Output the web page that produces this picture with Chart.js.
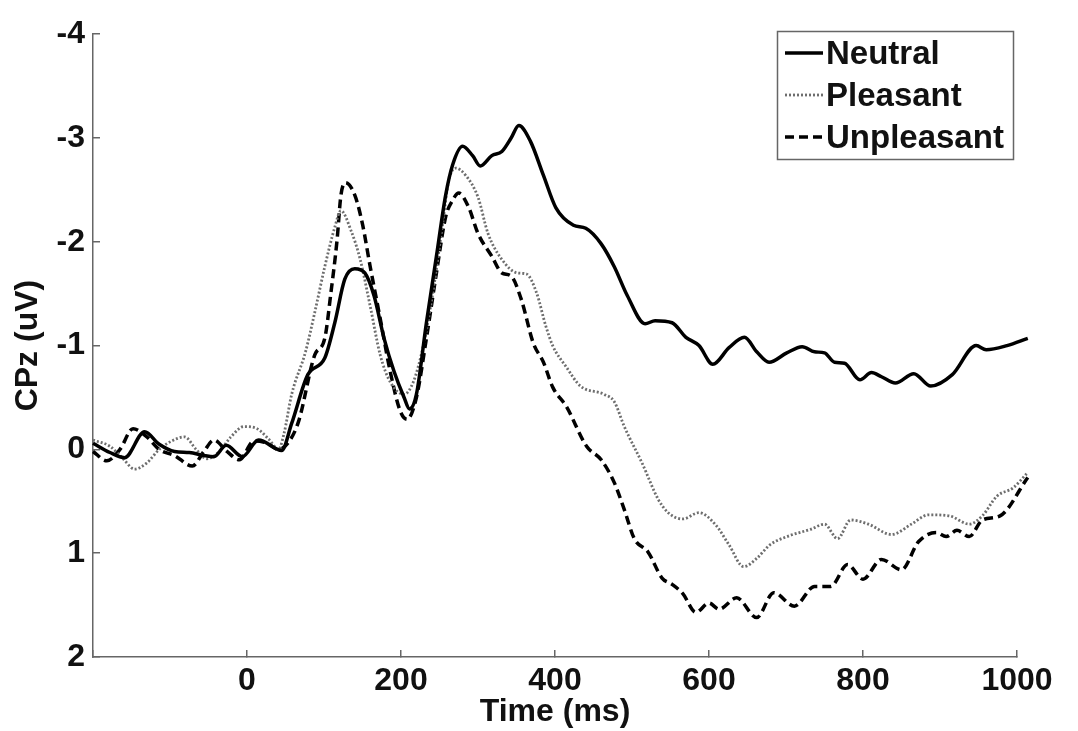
<!DOCTYPE html>
<html>
<head>
<meta charset="utf-8">
<script src="https://cdn.jsdelivr.net/npm/chart.js@4"></script>
<style>
  html, body { margin: 0; padding: 0; background: #fff; }
  #wrap { width: 1078px; height: 731px; }
</style>
</head>
<body>
<div id="wrap"><canvas id="erpChart"></canvas></div>
<script>
// time (ms) and CPz amplitude (uV)
const neutralTime = [-200,-178,-159,-133,-114,-94,-75,-55,-43,-27,-6,15,45,58,79,101,114,127,140,153,165,178,191,204,211,220,233,246,258,267,280,293,303,318,331,343,353,368,385,401,424,440,460,477,494,517,530,552,570,587,605,626,646,662,678,701,721,737,750,763,776,796,811,824,842,866,888,916,947,960,987,1014];
const neutralValues = [-0.06,0.03,0.08,-0.17,-0.05,0.02,0.03,0.06,0.07,-0.04,0.07,-0.09,0.01,-0.25,-0.72,-0.88,-1.22,-1.64,-1.74,-1.70,-1.48,-1.07,-0.75,-0.50,-0.39,-0.53,-1.22,-1.86,-2.45,-2.74,-2.92,-2.83,-2.73,-2.83,-2.87,-3.00,-3.12,-2.97,-2.64,-2.33,-2.16,-2.13,-1.98,-1.76,-1.48,-1.21,-1.24,-1.22,-1.08,-1.00,-0.82,-0.98,-1.08,-0.94,-0.84,-0.93,-0.99,-0.94,-0.93,-0.84,-0.83,-0.67,-0.74,-0.70,-0.64,-0.73,-0.61,-0.72,-1.00,-0.96,-1.00,-1.07];

const pleasantTime = [-200,-178,-161,-146,-130,-114,-98,-81,-66,-52,-36,-21,-4,13,28,41,48,58,76,88,101,114,122,135,147,160,173,186,204,216,229,242,254,262,271,284,300,313,331,351,363,376,388,397,415,433,464,477,490,513,534,547,566,587,609,626,645,662,679,705,732,750,767,784,807,837,863,885,912,938,955,974,995,1013];
const pleasantValues = [-0.09,-0.03,0.09,0.19,0.13,0.0,-0.08,-0.12,0.0,0.09,0.02,-0.12,-0.22,-0.2,-0.1,0.0,-0.15,-0.53,-0.94,-1.32,-1.76,-2.14,-2.30,-2.11,-1.83,-1.38,-0.91,-0.65,-0.53,-0.65,-1.00,-1.54,-2.17,-2.59,-2.71,-2.64,-2.43,-2.08,-1.83,-1.70,-1.69,-1.51,-1.19,-1.0,-0.79,-0.61,-0.53,-0.46,-0.22,0.13,0.48,0.61,0.67,0.61,0.73,0.92,1.13,1.05,0.92,0.83,0.77,0.72,0.86,0.68,0.72,0.82,0.72,0.63,0.64,0.72,0.64,0.45,0.37,0.23];

const unpleasantTime = [-200,-182,-165,-148,-130,-114,-94,-71,-56,-43,-26,-10,9,26,41,55,67,88,101,109,117,122,128,140,150,160,173,186,199,208,220,233,246,258,267,275,288,300,318,331,343,356,372,385,397,415,441,460,477,490,503,521,539,552,566,583,600,613,636,662,684,711,737,758,780,800,824,850,872,895,908,922,938,955,978,1014];
const unpleasantValues = [0.02,0.11,0.0,-0.2,-0.12,0.0,0.06,0.16,0.02,-0.09,0.02,0.10,-0.08,-0.06,0.0,-0.08,-0.27,-0.91,-1.07,-1.51,-2.02,-2.45,-2.57,-2.45,-2.17,-1.76,-1.26,-0.75,-0.37,-0.29,-0.50,-1.07,-1.70,-2.24,-2.40,-2.47,-2.33,-2.08,-1.86,-1.70,-1.67,-1.45,-1.02,-0.84,-0.60,-0.41,-0.03,0.10,0.32,0.58,0.86,0.99,1.24,1.30,1.39,1.57,1.48,1.54,1.43,1.62,1.38,1.51,1.32,1.32,1.11,1.25,1.06,1.16,0.89,0.80,0.84,0.78,0.84,0.68,0.64,0.27];

const seriesLabels = ['Neutral', 'Pleasant', 'Unpleasant'];
const xTicks = [-200, 0, 200, 400, 600, 800, 1000];
const yTicks = [-4, -3, -2, -1, 0, 1, 2];

const FONT = '"Liberation Sans", Arial, sans-serif';
const AXIS_COLOR = '#666';

function toPoints(times, values) {
    return times.map((t, i) => ({ x: t, y: values[i] }));
}

// legend drawn as a framed box in the top right corner
const boxLegend = {
    id: 'boxLegend',
    afterDraw(chart) {
        const ctx = chart.ctx;
        const left = 777, top = 31, w = 236, h = 128;
        ctx.save();
        ctx.fillStyle = '#fff';
        ctx.fillRect(left, top, w, h);
        ctx.strokeStyle = AXIS_COLOR;
        ctx.lineWidth = 1.5;
        ctx.strokeRect(left + 0.5, top + 0.5, w, h);
        ctx.font = 'bold 33px ' + FONT;
        ctx.textBaseline = 'middle';
        chart.data.datasets.forEach((ds, i) => {
            const y = 53 + i * 42;
            ctx.beginPath();
            ctx.strokeStyle = ds.borderColor;
            ctx.lineWidth = ds.borderWidth;
            ctx.setLineDash(ds.borderDash || []);
            ctx.moveTo(785, y);
            ctx.lineTo(823, y);
            ctx.stroke();
            ctx.setLineDash([]);
            ctx.fillStyle = '#111';
            ctx.fillText(ds.label, 826, y + 2);
        });
        ctx.restore();
    }
};

const ctx = document.getElementById('erpChart').getContext('2d');
new Chart(ctx, {
    type: 'line',
    data: {
        datasets: [{
            label: seriesLabels[0],
            data: toPoints(neutralTime, neutralValues),
            borderColor: '#000',
            borderWidth: 3.5,
            borderDash: [],
            pointRadius: 0,
            cubicInterpolationMode: 'monotone',
            clip: false
        }, {
            label: seriesLabels[1],
            data: toPoints(pleasantTime, pleasantValues),
            borderColor: '#6e6e6e',
            borderWidth: 2.8,
            borderDash: [2, 2],
            pointRadius: 0,
            cubicInterpolationMode: 'monotone',
            clip: false
        }, {
            label: seriesLabels[2],
            data: toPoints(unpleasantTime, unpleasantValues),
            borderColor: '#000',
            borderWidth: 3.5,
            borderDash: [9, 5],
            pointRadius: 0,
            cubicInterpolationMode: 'monotone',
            clip: false
        }]
    },
    options: {
        responsive: true,
        maintainAspectRatio: false,
        animation: false,
        layout: { padding: { left: 0, right: 61, top: 24, bottom: 0 } },
        plugins: {
            legend: { display: false },
            tooltip: { enabled: false }
        },
        scales: {
            x: {
                type: 'linear',
                min: xTicks[0],
                max: xTicks[xTicks.length - 1],
                afterBuildTicks: (scale) => { scale.ticks = xTicks.map(v => ({ value: v })); },
                afterFit: (scale) => { scale.height = 74; },
                ticks: {
                    color: '#111',
                    font: { family: FONT, size: 32, weight: 'bold' },
                    padding: 12,
                    maxRotation: 0,
                    callback: (v) => (v === -200 ? '' : String(v))
                },
                grid: {
                    drawOnChartArea: false,
                    drawTicks: true,
                    tickLength: -7,
                    color: AXIS_COLOR,
                    lineWidth: 1.5
                },
                border: { display: true, color: AXIS_COLOR, width: 1.5 },
                title: {
                    display: true,
                    text: 'Time (ms)',
                    color: '#111',
                    font: { family: FONT, size: 32, weight: 'bold', lineHeight: 1.1 },
                    padding: { top: 0, bottom: 1 }
                }
            },
            y: {
                type: 'linear',
                reverse: true,
                min: yTicks[0],
                max: yTicks[yTicks.length - 1],
                afterBuildTicks: (scale) => { scale.ticks = yTicks.map(v => ({ value: v })); },
                afterFit: (scale) => { scale.width = 93; },
                ticks: {
                    color: '#111',
                    font: { family: FONT, size: 32, weight: 'bold' },
                    padding: 15,
                    callback: (v) => String(v)
                },
                grid: {
                    drawOnChartArea: false,
                    drawTicks: true,
                    tickLength: -7,
                    color: AXIS_COLOR,
                    lineWidth: 1.5
                },
                border: { display: true, color: AXIS_COLOR, width: 1.5 },
                title: {
                    display: true,
                    text: 'CPz (uV)',
                    color: '#111',
                    font: { family: FONT, size: 32, weight: 'bold', lineHeight: 1.2 },
                    padding: { top: 9, bottom: 0 }
                }
            }
        }
    },
    plugins: [boxLegend]
});
</script>
</body>
</html>
